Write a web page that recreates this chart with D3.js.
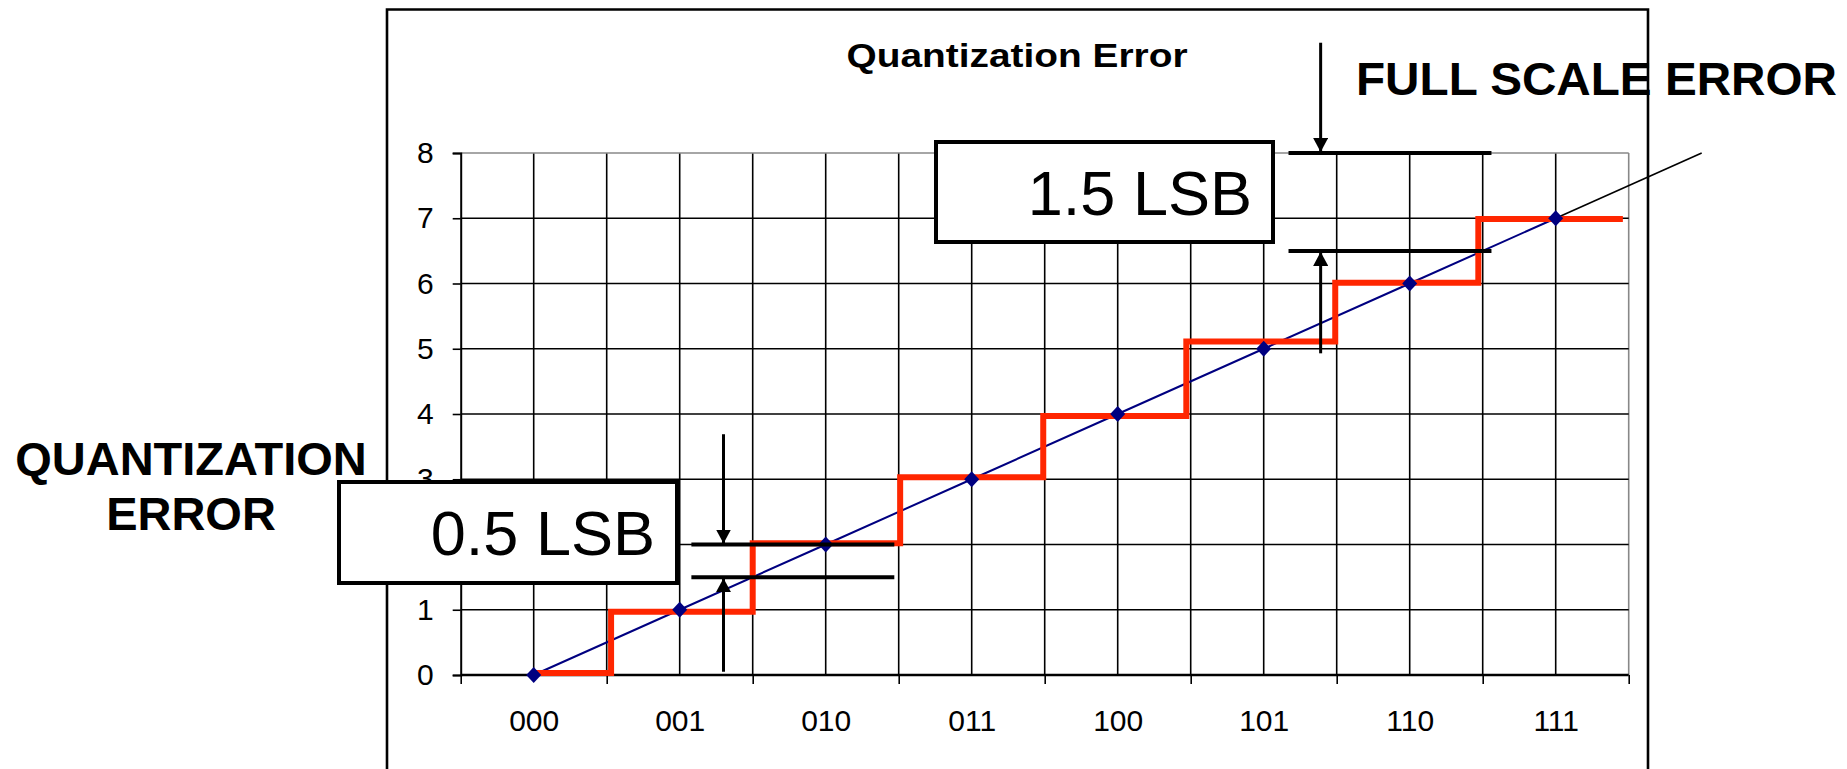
<!DOCTYPE html>
<html><head><meta charset="utf-8">
<script src="https://cdn.jsdelivr.net/npm/d3@7"></script>
<style>
body{margin:0;background:#fff;}
svg{display:block;}
text{font-family:"Liberation Sans",Arial,Helvetica,sans-serif;}
</style>
</head><body>
<svg id="c" width="1847" height="769"></svg>
<script>
// ---------- data ----------
const categories = ["000","001","010","011","100","101","110","111"];
const idealValues = [0,1,2,3,4,5,6,7];
const stepLevels = [0.03,0.97,2.02,3.03,3.97,5.11,6.01,6.99];
const stepEdges = [0,0.53,1.5,2.51,3.49,4.47,5.49,6.47,7.46];
const yTicks = [0,1,2,3,4,5,6,7,8];
const extensionEnd = [8,8];
const titleText = "Quantization Error";
const annLabels = ["0.5 LSB","1.5 LSB"];
const annUpper = [2,8];
const annLower = [1.5,6.5];
const annArrowTop = [3.69,9.69];
const annArrowBottom = [0.05,4.93];
const annArrowX = [1.30,5.39];
const annBarFrom = [1.08,5.17];
const annBarTo = [2.47,6.56];

// ---------- layout ----------
const svg = d3.select("#c");
const X0 = 460.7, X1 = 1628.7, Y0 = 675, Y1 = 153;
const x = d3.scaleLinear().domain([-0.5, 7.5]).range([X0, X1]);
const y = d3.scaleLinear().domain([0, 8]).range([Y0, Y1]);
const FONT = '"Liberation Sans",Arial,Helvetica,sans-serif';

const defs = svg.append("defs");
defs.append("marker").attr("id","ah")
  .attr("viewBox","0 -7.5 14 15").attr("refX",14).attr("refY",0)
  .attr("markerUnits","userSpaceOnUse").attr("markerWidth",14).attr("markerHeight",15)
  .attr("orient","auto")
  .append("path").attr("d","M0,-7.5L14,0L0,7.5Z").attr("fill","#000");

// vertical gridlines at every half category
const halfSteps = d3.range(-0.5, 7.51, 0.5);
svg.append("g").selectAll("line").data(halfSteps.slice(1))
  .join("line")
  .attr("x1", d => x(d)).attr("x2", d => x(d))
  .attr("y1", Y1).attr("y2", Y0)
  .attr("stroke", (d,i,a) => i === a.length-1 ? "#888" : "#000")
  .attr("stroke-width", 1.6);

// horizontal gridlines
svg.append("g").selectAll("line").data(yTicks.slice(1))
  .join("line")
  .attr("x1", X0).attr("x2", X1)
  .attr("y1", d => y(d)).attr("y2", d => y(d))
  .attr("stroke", d => d === 8 ? "#888" : "#000")
  .attr("stroke-width", 1.6);

// y axis
const yAxis = svg.append("g").attr("transform", `translate(${X0},0)`)
  .call(d3.axisLeft(y).tickValues(yTicks).tickSize(8).tickPadding(19).tickFormat(d3.format("d")));
yAxis.select(".domain").attr("stroke","#000").attr("stroke-width",2);
yAxis.selectAll(".tick line").attr("stroke","#000").attr("stroke-width",1.6);
yAxis.selectAll(".tick text").attr("font-family",FONT).attr("font-size",30).attr("fill","#000");

// x axis: boundary ticks
const xAxis = svg.append("g").attr("transform", `translate(0,${Y0})`)
  .call(d3.axisBottom(x).tickValues(halfSteps.filter((d,i)=>i%2===0)).tickSize(9).tickFormat(""));
xAxis.select(".domain").attr("stroke","#000").attr("stroke-width",2.4).attr("d",`M${X0},0H${X1}`);
xAxis.selectAll(".tick line").attr("stroke","#000").attr("stroke-width",1.6);

// x axis labels at category centers
const xLab = svg.append("g").attr("transform", `translate(0,${Y0})`)
  .call(d3.axisBottom(x).tickValues(d3.range(categories.length)).tickSize(0).tickPadding(35)
    .tickFormat(i => categories[i]));
xLab.select(".domain").remove();
xLab.selectAll(".tick text").attr("font-family",FONT).attr("font-size",30).attr("fill","#000");

// ideal line (blue) and its black extension
const line = d3.line().x(d => x(d[0])).y(d => y(d[1]));
const idealPts = idealValues.map((v,i) => [i, v]);
svg.append("path").attr("d", line(idealPts))
  .attr("fill","none").attr("stroke","#000080").attr("stroke-width",2);
svg.append("path").attr("d", line([idealPts[idealPts.length-1], extensionEnd]))
  .attr("fill","none").attr("stroke","#000").attr("stroke-width",1.6);

// red staircase
const stepPts = [];
stepLevels.forEach((v,i) => { stepPts.push([stepEdges[i], v]); stepPts.push([stepEdges[i+1], v]); });
svg.append("path").attr("d", line(stepPts))
  .attr("fill","none").attr("stroke","#ff2600").attr("stroke-width",6)
  .attr("stroke-linejoin","miter").attr("stroke-linecap","butt");

// diamonds
svg.append("g").selectAll("path").data(idealPts).join("path")
  .attr("transform", d => `translate(${x(d[0])},${y(d[1])})`)
  .attr("d","M0,-8L7.5,0L0,8L-7.5,0Z").attr("fill","#000080");

// annotation bars and arrows
annLabels.forEach((lab,i) => {
  [annUpper[i], annLower[i]].forEach(v => {
    svg.append("line")
      .attr("x1", x(annBarFrom[i])).attr("x2", x(annBarTo[i]))
      .attr("y1", y(v)).attr("y2", y(v))
      .attr("stroke","#000").attr("stroke-width",4);
  });
  svg.append("line")
    .attr("x1", x(annArrowX[i])).attr("x2", x(annArrowX[i]))
    .attr("y1", y(annArrowTop[i])).attr("y2", y(annUpper[i]) - 1)
    .attr("stroke","#000").attr("stroke-width",3).attr("marker-end","url(#ah)");
  svg.append("line")
    .attr("x1", x(annArrowX[i])).attr("x2", x(annArrowX[i]))
    .attr("y1", y(annArrowBottom[i])).attr("y2", y(annLower[i]) + 1)
    .attr("stroke","#000").attr("stroke-width",3).attr("marker-end","url(#ah)");
});

// title
svg.append("text").attr("x",1017).attr("y",67).attr("text-anchor","middle")
  .attr("font-family",FONT).attr("font-weight","bold").attr("font-size",33)
  .attr("textLength",341).attr("lengthAdjust","spacingAndGlyphs")
  .text(titleText);

// FULL SCALE ERROR
svg.append("text").attr("x",1356).attr("y",95)
  .attr("font-family",FONT).attr("font-weight","bold").attr("font-size",46)
  .attr("textLength",481).attr("lengthAdjust","spacingAndGlyphs")
  .text("FULL SCALE ERROR");

// outer frame
svg.append("path").attr("d","M387,800V9.5H1648V800")
  .attr("fill","none").attr("stroke","#000").attr("stroke-width",2.6);

// QUANTIZATION ERROR
svg.append("text").attr("x",191).attr("y",475).attr("text-anchor","middle")
  .attr("font-family",FONT).attr("font-weight","bold").attr("font-size",47)
  .text("QUANTIZATION");
svg.append("text").attr("x",191).attr("y",530).attr("text-anchor","middle")
  .attr("font-family",FONT).attr("font-weight","bold").attr("font-size",47)
  .text("ERROR");

// label boxes
const boxes = [
  {x:339, y:482, w:338, h:101, tx:655, ty:555},
  {x:936, y:142, w:337, h:100, tx:1252, ty:215}
];
boxes.forEach((b,i) => {
  svg.append("rect").attr("x",b.x).attr("y",b.y).attr("width",b.w).attr("height",b.h)
    .attr("fill","#fff").attr("stroke","#000").attr("stroke-width",4);
  svg.append("text").attr("x",b.tx).attr("y",b.ty).attr("text-anchor","end")
    .attr("font-family",FONT).attr("font-size",63).attr("fill","#000")
    .text(annLabels[i]);
});
</script>
</body></html>
